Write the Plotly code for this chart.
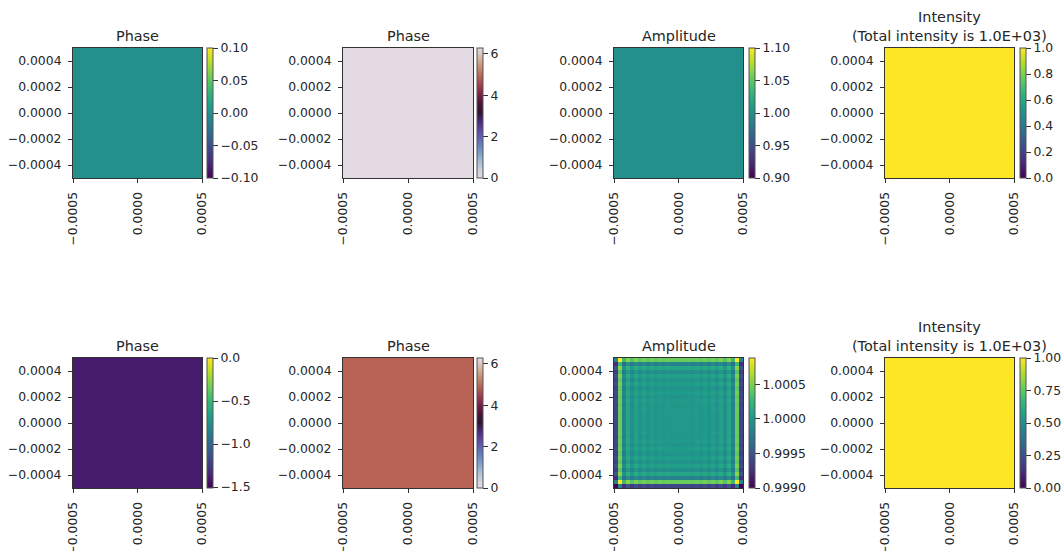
import numpy as np
import plotly.graph_objects as go

# ---------------- data ----------------
grid_n = 32
extent = [-0.0005, 0.0005]
x_ticks = [-0.0005, 0.0, 0.0005]
y_ticks = [-0.0004, -0.0002, 0.0, 0.0002, 0.0004]

titles = ["Phase", "Phase", "Amplitude", "Intensity<br>(Total intensity is 1.0E+03)",
          "Phase", "Phase", "Amplitude", "Intensity<br>(Total intensity is 1.0E+03)"]

# top row (input field): uniform values
phase_in = 0.0
phase_in_wrapped = 0.0
amplitude_in = 1.0
intensity_in = 1.0

# bottom row (output field)
phase_out = -1.40
phase_out_wrapped = 4.88
intensity_out = 1.0
# amplitude ripple profiles (deviation from 1), left->right and bottom->top
amp_profile_x = [-0.0006, 0.00044, -0.00016, 0.00010, -0.00007, 0.00006, -0.00004, 0.00004,
                 -0.00003, 0.00003, -0.00002, 0.00002, -0.00001, 0.00001, 0.0, 0.0,
                 0.0, 0.0, 0.00001, -0.00001, 0.00002, -0.00002, 0.00003, -0.00003,
                 0.00004, -0.00004, 0.00006, -0.00007, 0.00010, -0.00016, 0.00044, -0.0006]
amp_profile_y = [-0.0006, 0.00044, -0.00016, 0.00010, -0.00007, 0.00006, -0.00004, 0.00004,
                 -0.00003, 0.00003, -0.00002, 0.00002, -0.00001, 0.00001, 0.0, 0.0,
                 0.0, 0.0, 0.0, 0.00001, -0.00001, 0.00002, -0.00002, 0.00003,
                 -0.00003, 0.00004, -0.00004, 0.00006, -0.00007, 0.00010, -0.00016, 0.00044]

color_min = [-0.1, 0.0, 0.9, 0.0, -1.51, 0.0, 0.999, 0.0]
color_max = [0.1, 2 * np.pi, 1.1, 1.0, 0.0, 2 * np.pi, 1.00088, 1.0]
cbar_ticks = [
    [-0.10, -0.05, 0.0, 0.05, 0.10],
    [0, 2, 4, 6],
    [0.90, 0.95, 1.00, 1.05, 1.10],
    [0.0, 0.2, 0.4, 0.6, 0.8, 1.0],
    [-1.5, -1.0, -0.5, 0.0],
    [0, 2, 4, 6],
    [0.9990, 0.9995, 1.0000, 1.0005],
    [0.0, 0.25, 0.5, 0.75, 1.0],
]
cbar_formats = [".2f", "d", ".2f", ".1f", ".1f", "d", ".4f", ".2f"]

# ---------------- styling ----------------
W, H = 1062, 551
FONT = "DejaVu Sans"
TICK_SIZE = 12.4
TXT = "#262626"
LINE = "#333333"

twilight = [
    [0.00, "#e2d9e2"], [0.06, "#ccd1dc"], [0.12, "#a9bfd5"], [0.19, "#7f9fc9"],
    [0.25, "#6783c0"], [0.31, "#5f64b6"], [0.375, "#5c44a0"], [0.44, "#4a2777"],
    [0.50, "#2f1436"], [0.56, "#441535"], [0.625, "#6d1c43"], [0.69, "#97344d"],
    [0.78, "#b86455"], [0.86, "#c99176"], [0.93, "#d8bcab"], [1.00, "#e2d9e2"],
]
scales = ["Viridis", twilight, "Viridis", "Viridis", "Viridis", twilight, "Viridis", "Viridis"]

col_px = [(73, 202, 207), (343, 473, 477), (614, 743, 749), (885, 1014, 1020)]
row_px = [(48, 178), (358, 488)]

def fx(p):
    return p / W

def fy(p):
    return 1 - p / H

def full(v):
    return np.full((grid_n, grid_n), v, dtype=float)

amp_out = 1.0 + np.add.outer(np.array(amp_profile_y), np.array(amp_profile_x))
fields = [full(phase_in), full(phase_in_wrapped), full(amplitude_in), full(intensity_in),
          full(phase_out), full(phase_out_wrapped), amp_out, full(intensity_out)]

dx = (extent[1] - extent[0]) / grid_n
fig = go.Figure()
layout = dict(width=W, height=H, margin=dict(l=0, r=0, t=0, b=0, autoexpand=False),
              paper_bgcolor="white", plot_bgcolor="white", showlegend=False,
              font=dict(family=FONT, size=12, color=TXT))
annotations = []
for k in range(8):
    r, c = divmod(k, 4)
    x0, x1, cbx = col_px[c]
    top, bot = row_px[r]
    idx = k + 1
    fig.add_trace(go.Heatmap(
        z=fields[k], x0=extent[0] + dx / 2, dx=dx, y0=extent[0] + dx / 2, dy=dx,
        zmin=color_min[k], zmax=color_max[k], colorscale=scales[k],
        xaxis=f"x{idx}", yaxis=f"y{idx}", hoverinfo="skip",
        colorbar=dict(
            x=fx(cbx), xanchor="left", y=(fy(top) + fy(bot)) / 2, yanchor="middle",
            len=(bot - top) / H, lenmode="fraction", thickness=6, thicknessmode="pixels",
            xpad=0, ypad=0, outlinewidth=1, outlinecolor="#555555",
            ticks="outside", ticklen=5, tickwidth=1, tickcolor=LINE,
            tickvals=cbar_ticks[k], tickformat=cbar_formats[k],
            tickfont=dict(family=FONT, size=TICK_SIZE, color=TXT),
        ),
    ))
    layout[f"xaxis{idx}"] = dict(
        domain=[fx(x0), fx(x1)], anchor=f"y{idx}", range=extent,
        tickvals=x_ticks, tickformat=".4f", tickangle=-90,
        ticks="outside", ticklen=4, tickcolor=LINE, showgrid=False, zeroline=False,
        showline=True, mirror=True, linecolor=LINE, linewidth=1, ticklabelstandoff=4,
        tickfont=dict(family=FONT, size=TICK_SIZE, color=TXT))
    layout[f"yaxis{idx}"] = dict(
        domain=[fy(bot), fy(top)], anchor=f"x{idx}", range=extent,
        tickvals=y_ticks, tickformat=".4f",
        ticks="outside", ticklen=4, tickcolor=LINE, showgrid=False, zeroline=False,
        showline=True, mirror=True, linecolor=LINE, linewidth=1, ticklabelstandoff=4,
        tickfont=dict(family=FONT, size=TICK_SIZE, color=TXT))
    annotations.append(dict(
        text=titles[k], xref="paper", yref="paper", x=(fx(x0) + fx(x1)) / 2, y=fy(top),
        xanchor="center", yanchor="bottom", yshift=2, showarrow=False,
        font=dict(family=FONT, size=14.4, color=TXT)))
layout["annotations"] = annotations
fig.update_layout(**layout)
fig.write_html("out.html", config={"displayModeBar": False},
               post_script="document.body.style.margin='0';document.body.style.overflow='hidden';")
